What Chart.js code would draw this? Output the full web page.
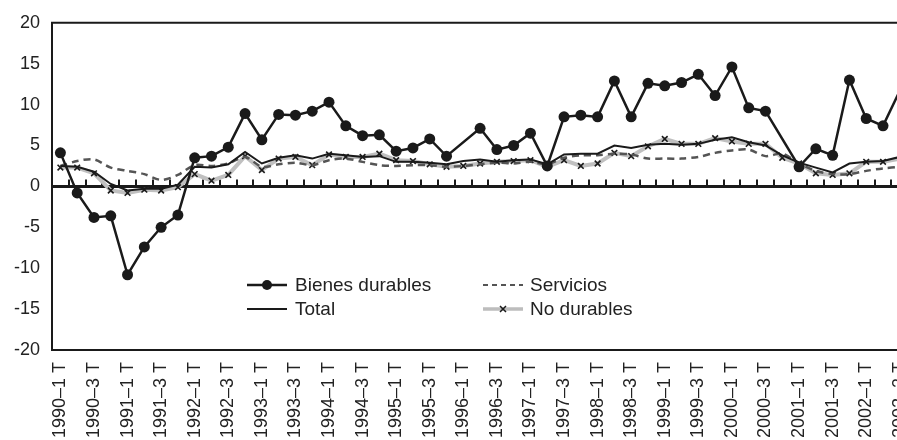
<!DOCTYPE html>
<html>
<head>
<meta charset="utf-8">
<script src="https://cdn.jsdelivr.net/npm/chart.js@4.4.0/dist/chart.umd.min.js"></script>
<style>
html, body { margin: 0; padding: 0; background: #fff; overflow: hidden; }
canvas { display: block; }
</style>
</head>
<body>
<canvas id="consumo" width="897" height="440" style="width:897px;height:440px"></canvas>
<script>
// Quarterly growth rates of consumption, 1990-1 T .. 2002-3 T
const years = [1990, 1991, 1992, 1993, 1994, 1995, 1996, 1997, 1998, 1999, 2000, 2001, 2002];
const quarters = [1, 2, 3, 4];
const labels = [];
years.forEach(y => quarters.forEach(q => labels.push(y + '\u2013' + q + ' T')));
labels.length = 51; // series stop at 2002-3 T

const bienesDurables = [4.1, -0.8, -3.8, -3.6, -10.8, -7.4, -5.0, -3.5, 3.5, 3.7, 4.8, 8.9, 5.7,
  8.8, 8.7, 9.2, 10.3, 7.4, 6.2, 6.3, 4.3, 4.7, 5.8, 3.7, null, 7.1, 4.5, 5.0, 6.5, 2.5, 8.5, 8.7,
  8.5, 12.9, 8.5, 12.6, 12.3, 12.7, 13.7, 11.1, 14.6, 9.6, 9.2, null, 2.4, 4.6, 3.8, 13.0, 8.3, 7.4, 11.7];

const total = [2.5, 2.4, 1.8, 0.3, -0.5, -0.3, -0.3, 0.2, 2.4, 2.3, 2.7, 4.2, 2.8, 3.5, 3.8, 3.4,
  4.0, 3.8, 3.6, 3.7, 3.0, 3.0, 2.9, 2.7, 3.1, 3.3, 3.0, 3.2, 3.3, 2.7, 3.9, 4.0, 4.0, 5.0, 4.7,
  5.1, 5.2, 5.1, 5.2, 5.7, 6.0, 5.4, 5.0, 3.8, 2.9, 2.3, 1.7, 2.8, 3.0, 3.1, 3.6];

const servicios = [2.5, 3.1, 3.3, 2.3, 1.9, 1.5, 0.8, 1.4, 2.6, 2.5, 2.8, 3.6, 2.4, 2.7, 2.9, 2.6,
  3.2, 3.4, 3.0, 2.6, 2.5, 2.6, 2.6, 2.4, 2.5, 2.7, 2.9, 2.8, 3.0, 2.7, 3.5, 3.8, 3.8, 4.0, 3.9,
  3.4, 3.4, 3.4, 3.6, 4.1, 4.4, 4.5, 3.7, 4.0, 2.8, 1.9, 1.5, 1.5, 1.9, 2.2, 2.4];

const noDurables = [2.3, 2.3, 1.6, -0.5, -0.8, -0.4, -0.5, -0.1, 1.5, 0.7, 1.4, 3.7, 2.0, 3.4, 3.6,
  2.6, 3.9, 3.6, 3.6, 4.0, 3.2, 3.1, 2.7, 2.4, 2.5, 2.8, 3.0, 3.1, 3.2, 2.4, 3.2, 2.5, 2.8, 4.1,
  3.7, 4.9, 5.8, 5.2, 5.2, 5.9, 5.5, 5.2, 5.2, 3.5, 2.8, 1.6, 1.4, 1.6, 3.0, 3.0, 3.4];

const yTicks = [20, 15, 10, 5, 0, -5, -10, -15, -20];

// the picture is cut at its right edge: the last quarter runs past the border
const X_MIN = -0.5, X_MAX = 49.5;

const FONT = '"Liberation Sans", Arial, sans-serif';
const INK = '#1a1a1a';

function toPoints(arr) {
  return arr.map((v, i) => ({ x: i, y: v }));
}

// frame (top, left, bottom), zero line with quarter ticks
const framePlugin = {
  id: 'frame',
  beforeDatasetsDraw(chart) {
    const { ctx, chartArea: a, scales } = chart;
    const x = scales.x, y = scales.y;
    const edge = chart.width + 5;
    ctx.save();
    ctx.strokeStyle = INK;
    ctx.lineWidth = 2;
    ctx.beginPath();
    ctx.moveTo(edge, a.top);
    ctx.lineTo(a.left, a.top);
    ctx.lineTo(a.left, a.bottom);
    ctx.lineTo(edge, a.bottom);
    ctx.stroke();
    const y0 = y.getPixelForValue(0);
    for (let i = 0; i <= labels.length; i++) {
      const px = Math.round(x.getPixelForValue(i - 0.5));
      if (px <= a.left + 1) continue;
      ctx.beginPath();
      ctx.moveTo(px, y0);
      ctx.lineTo(px, y0 - 7);
      ctx.stroke();
    }
    ctx.lineWidth = 3;
    ctx.beginPath();
    ctx.moveTo(a.left, y0);
    ctx.lineTo(edge, y0);
    ctx.stroke();
    ctx.restore();
  }
};

// legend inside the plot, two columns
const legendPlugin = {
  id: 'innerLegend',
  afterDraw(chart) {
    const ctx = chart.ctx;
    ctx.save();
    ctx.font = '19px ' + FONT;
    ctx.textBaseline = 'middle';

    function sample(x1, x2, yy, color, width, dash) {
      ctx.save();
      ctx.strokeStyle = color;
      ctx.lineWidth = width;
      ctx.setLineDash(dash || []);
      ctx.beginPath();
      ctx.moveTo(x1, yy);
      ctx.lineTo(x2, yy);
      ctx.stroke();
      ctx.restore();
    }

    sample(247, 287, 285, INK, 2.5);
    ctx.beginPath();
    ctx.arc(267, 285, 5, 0, Math.PI * 2);
    ctx.fillStyle = INK;
    ctx.fill();
    ctx.fillStyle = '#222';
    ctx.fillText('Bienes durables', 295, 286);

    sample(247, 287, 309, INK, 2);
    ctx.fillText('Total', 295, 310);

    sample(483, 523, 285, '#555', 2, [5, 4]);
    ctx.fillText('Servicios', 530, 286);

    sample(483, 523, 309, '#bdbdbd', 3.5);
    ctx.strokeStyle = INK;
    ctx.lineWidth = 1.5;
    ctx.beginPath();
    ctx.moveTo(500, 306); ctx.lineTo(506, 312);
    ctx.moveTo(506, 306); ctx.lineTo(500, 312);
    ctx.stroke();
    ctx.fillText('No durables', 530, 310);
    ctx.restore();
  }
};

new Chart(document.getElementById('consumo'), {
  type: 'line',
  data: {
    datasets: [
      {
        label: 'Bienes durables',
        data: toPoints(bienesDurables),
        borderColor: INK,
        backgroundColor: INK,
        borderWidth: 2.5,
        pointRadius: 5.5,
        pointBackgroundColor: INK,
        pointBorderWidth: 0,
        spanGaps: true,
        clip: false,
        tension: 0
      },
      {
        label: 'Total',
        data: toPoints(total),
        borderColor: INK,
        borderWidth: 2,
        pointRadius: 0,
        clip: false,
        tension: 0
      },
      {
        label: 'Servicios',
        data: toPoints(servicios),
        borderColor: '#555',
        borderWidth: 2.5,
        borderDash: [7, 5],
        pointRadius: 0,
        clip: false,
        tension: 0.3
      },
      {
        label: 'No durables',
        data: toPoints(noDurables),
        borderColor: '#c0c0c0',
        borderWidth: 4,
        pointStyle: 'crossRot',
        pointRadius: 4,
        pointBorderColor: INK,
        pointBorderWidth: 1.6,
        clip: false,
        tension: 0
      }
    ]
  },
  options: {
    responsive: false,
    animation: false,
    layout: { padding: { top: 21, right: 0, left: 0, bottom: 0 } },
    plugins: {
      legend: { display: false },
      tooltip: { enabled: false }
    },
    scales: {
      x: {
        type: 'linear',
        min: X_MIN,
        max: X_MAX,
        grid: { display: false, drawTicks: false },
        border: { display: false },
        afterBuildTicks: function(scale) {
          scale.ticks = labels.map((l, i) => ({ value: i })).filter(t => t.value % 2 === 0);
        },
        afterFit: function(scale) {
          scale.height = 90;
          scale.paddingLeft = 0;
          scale.paddingRight = 0;
        },
        ticks: {
          autoSkip: false,
          minRotation: 90,
          maxRotation: 90,
          padding: 12,
          color: '#222',
          font: { family: FONT, size: 18 },
          callback: function(value) {
            return labels[value] || '';
          }
        }
      },
      y: {
        min: -20,
        max: 20,
        afterFit: function(scale) { scale.width = 52; },
        afterBuildTicks: function(scale) {
          scale.ticks = yTicks.map(v => ({ value: v }));
        },
        grid: { display: false, drawTicks: false },
        border: { display: false },
        ticks: {
          padding: 12,
          color: '#222',
          font: { family: FONT, size: 18 },
          callback: function(v) { return String(v); }
        }
      }
    }
  },
  plugins: [framePlugin, legendPlugin]
});
</script>
</body>
</html>
